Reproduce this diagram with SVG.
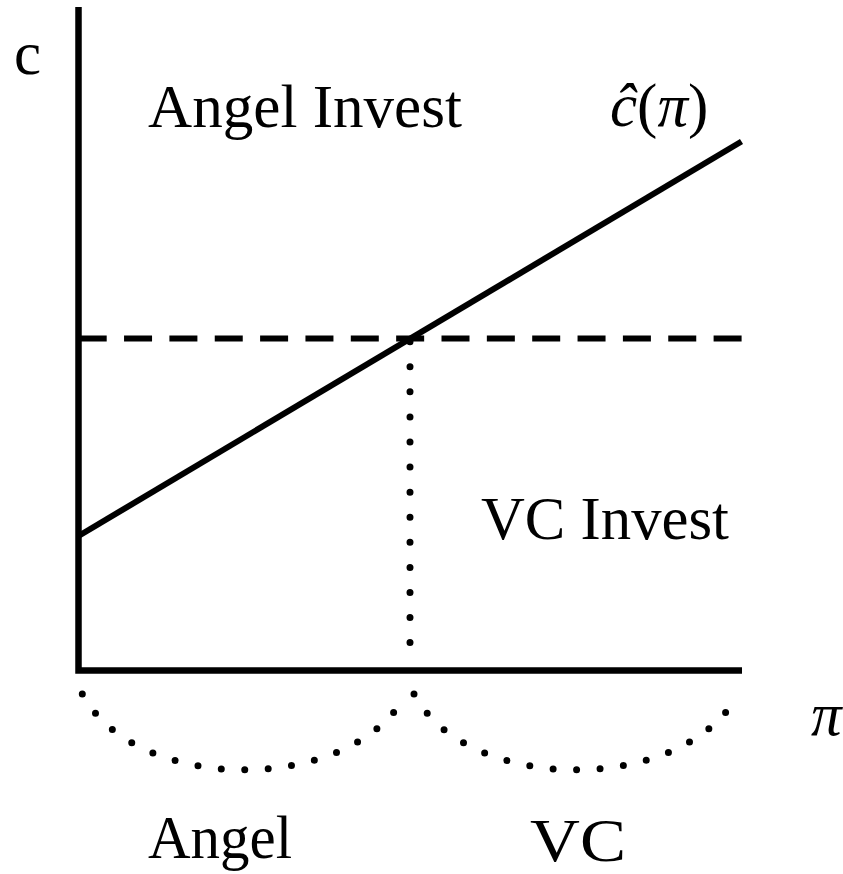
<svg xmlns="http://www.w3.org/2000/svg" width="843" height="874" viewBox="0 0 843 874">
<style>
.t{font-family:"Liberation Serif","DejaVu Serif",serif;font-size:61px;fill:#000}
.i{font-style:italic}
.ax{fill:none;stroke:#000;stroke-width:6.5;stroke-linejoin:miter}
.ln{fill:none;stroke:#000;stroke-width:6}
.dash{fill:none;stroke:#000;stroke-width:6;stroke-dasharray:28 17.35}
.dot{fill:none;stroke:#000;stroke-width:7;stroke-linecap:round;stroke-dasharray:0 1}
</style>
<rect width="843" height="874" fill="#fff"/>
<g id="connectors">
<path class="ax" d="M78.5,7 V670.5 H742"/>
<line class="dash" x1="78.7" y1="338.5" x2="742.3" y2="338.5"/>
<line class="ln" x1="78.5" y1="536" x2="741.5" y2="141.5"/>
<path class="dot" pathLength="13" d="M410,341.7 V667.7"/>
<path class="dot" pathLength="16" d="M82.3,694 C136,795.3 353,795.3 406.7,693"/>
<path class="dot" pathLength="16" d="M414,694 C467.7,795.3 685,795.3 738.7,693"/>
</g>
<g id="label-c"><text class="t" x="14" y="74">c</text></g>
<g id="label-angel-invest"><text class="t" x="148" y="127" textLength="314" lengthAdjust="spacingAndGlyphs">Angel Invest</text></g>
<g id="label-chat"><text class="t" x="610" y="126"><tspan class="i">ĉ</tspan>(<tspan class="i">π</tspan>)</text></g>
<g id="label-vc-invest"><text class="t" x="481" y="539" textLength="248" lengthAdjust="spacingAndGlyphs">VC Invest</text></g>
<g id="label-pi"><text class="t i" x="811" y="735">π</text></g>
<g id="label-angel"><text class="t" x="148" y="858" textLength="144" lengthAdjust="spacingAndGlyphs">Angel</text></g>
<g id="label-vc"><text class="t" x="530" y="861" textLength="96" lengthAdjust="spacingAndGlyphs">VC</text></g>
</svg>
